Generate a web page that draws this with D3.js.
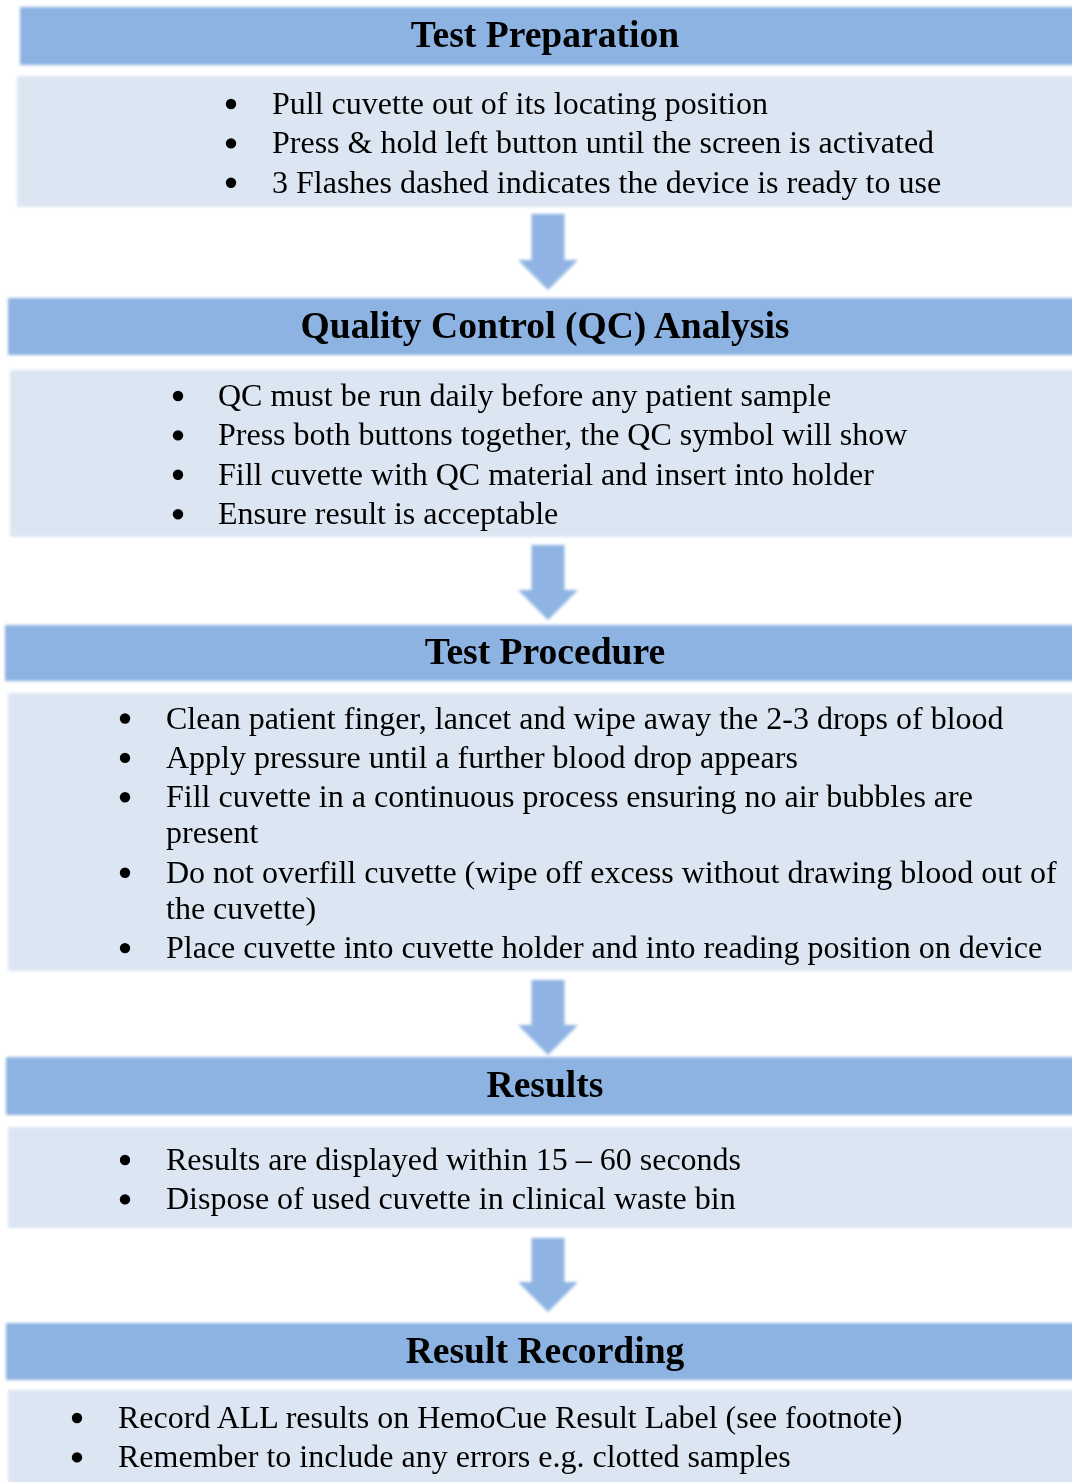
<!DOCTYPE html>
<html><head><meta charset="utf-8">
<script src="https://cdn.jsdelivr.net/npm/d3@7"></script>
<style>html,body{margin:0;padding:0;background:#fff;}svg{display:block;}</style>
</head><body>
<div id="chart"></div>
<script>
const titles = ["Test Preparation","Quality Control (QC) Analysis","Test Procedure","Results","Result Recording"];
const bullets1 = [["Pull cuvette out of its locating position"],["Press & hold left button until the screen is activated"],["3 Flashes dashed indicates the device is ready to use"]];
const bullets2 = [["QC must be run daily before any patient sample"],["Press both buttons together, the QC symbol will show"],["Fill cuvette with QC material and insert into holder"],["Ensure result is acceptable"]];
const bullets3 = [["Clean patient finger, lancet and wipe away the 2-3 drops of blood"],["Apply pressure until a further blood drop appears"],["Fill cuvette in a continuous process ensuring no air bubbles are","present"],["Do not overfill cuvette (wipe off excess without drawing blood out of","the cuvette)"],["Place cuvette into cuvette holder and into reading position on device"]];
const bullets4 = [["Results are displayed within 15 \u2013 60 seconds"],["Dispose of used cuvette in clinical waste bin"]];
const bullets5 = [["Record ALL results on HemoCue Result Label (see footnote)"],["Remember to include any errors e.g. clotted samples"]];
const allBullets = [bullets1,bullets2,bullets3,bullets4,bullets5];

// layout
const W = 1072, H = 1482;
const layout = [
  {hx:20, hy:7,    hh:58, bx:17, by:76,   bh:131, bulletX:231, textX:272, firstLine:104},
  {hx:8,  hy:298,  hh:57, bx:10, by:370,  bh:167, bulletX:178, textX:218, firstLine:396},
  {hx:5,  hy:625,  hh:56, bx:8,  by:693,  bh:278, bulletX:125, textX:166, firstLine:718.5},
  {hx:6,  hy:1057, hh:58, bx:8,  by:1127, bh:101, bulletX:125, textX:166, firstLine:1160},
  {hx:6,  hy:1323, hh:57, bx:8,  by:1390, bh:95,  bulletX:77,  textX:118, firstLine:1418}
];
const arrows = [{top:214,tip:290},{top:545,tip:620},{top:980,tip:1055},{top:1238,tip:1312}];
const lineGap = 39.4, wrapGap = 36;
const headerColor = "#8db3e2", bodyColor = "#dce6f2", arrowColor = "#8fb4e3";

const svg = d3.select("#chart").append("svg").attr("width",W).attr("height",H);
const defs = svg.append("defs");
defs.append("filter").attr("id","soft").attr("x","-5%").attr("y","-20%").attr("width","110%").attr("height","140%")
  .append("feGaussianBlur").attr("stdDeviation",1.6);
defs.append("filter").attr("id","txt")
  .append("feGaussianBlur").attr("stdDeviation",0.45);

const g = svg.append("g");
layout.forEach((L,i)=>{
  g.append("rect").attr("x",L.bx).attr("y",L.by).attr("width",W-L.bx+10).attr("height",L.bh)
    .attr("fill",bodyColor).attr("filter","url(#soft)");
  g.append("rect").attr("x",L.hx).attr("y",L.hy).attr("width",W-L.hx+10).attr("height",L.hh)
    .attr("fill",headerColor).attr("filter","url(#soft)");
});

const cx = 548, shaftW = 33, headW = 60, headH = 30;
const line = d3.line();
arrows.forEach(a=>{
  const hs = a.tip - headH;
  const pts = [[cx-shaftW/2,a.top],[cx+shaftW/2,a.top],[cx+shaftW/2,hs],[cx+headW/2,hs],[cx,a.tip],[cx-headW/2,hs],[cx-shaftW/2,hs]];
  g.append("path").attr("d",line(pts)+"Z").attr("fill",arrowColor).attr("filter","url(#soft)");
});

const tg = svg.append("g").attr("filter","url(#txt)").attr("font-family","'Liberation Serif','Times New Roman',serif").attr("fill","#000");
layout.forEach((L,i)=>{
  tg.append("text").attr("x",545).attr("y",L.hy+L.hh/2+11).attr("text-anchor","middle")
    .attr("font-weight","bold").attr("font-size",37.6).text(titles[i]);
  let y = L.firstLine;
  allBullets[i].forEach(item=>{
    tg.append("circle").attr("cx",L.bulletX).attr("cy",y).attr("r",5.2).attr("fill","#000");
    item.forEach((ln,k)=>{
      if(k>0) y += wrapGap;
      tg.append("text").attr("x",L.textX).attr("y",y+10).attr("font-size",32).text(ln);
    });
    y += lineGap;
  });
});
</script>
</body></html>
